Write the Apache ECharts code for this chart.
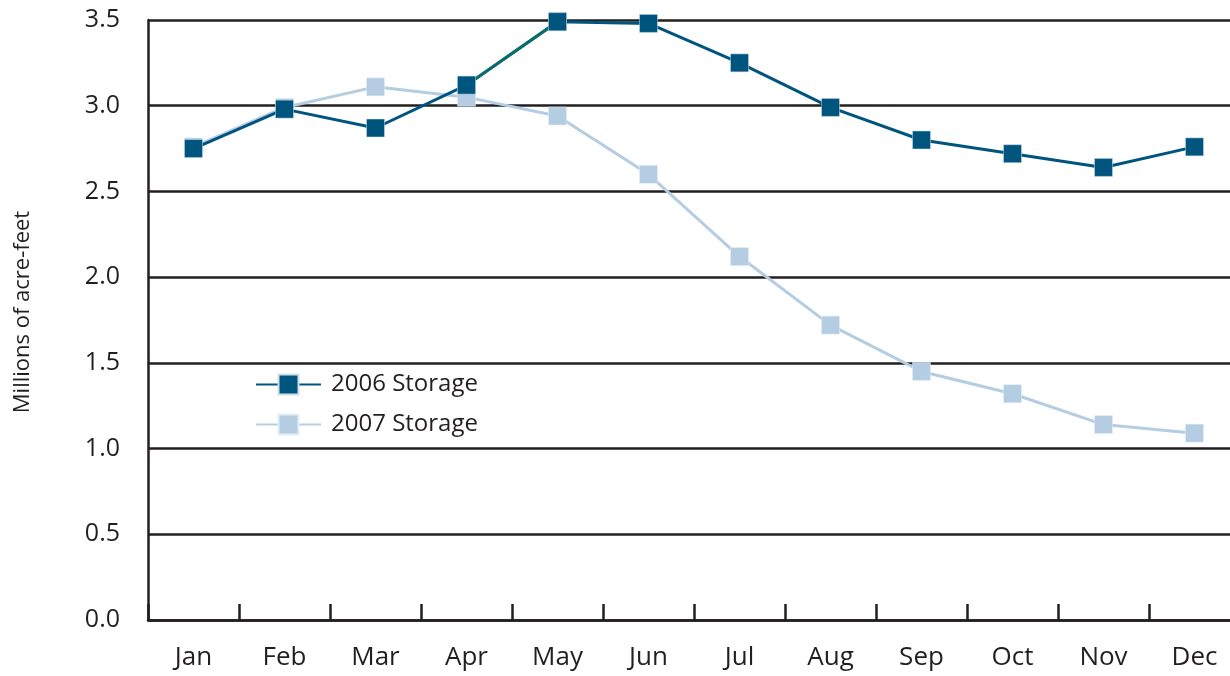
<!DOCTYPE html>
<html>
<head>
<meta charset="utf-8">
<script src="https://cdn.jsdelivr.net/npm/echarts@6/dist/echarts.min.js"></script>
<style>html,body{margin:0;padding:0;background:#fff;overflow:hidden;width:1230px;height:676px;}#c{width:1245px;height:676px;}</style>
</head>
<body>
<div id="c"></div>
<script>
const months = ['Jan','Feb','Mar','Apr','May','Jun','Jul','Aug','Sep','Oct','Nov','Dec'];
const storage2006 = [2.75, 2.98, 2.87, 3.12, 3.49, 3.48, 3.25, 2.99, 2.80, 2.72, 2.64, 2.76];
const storage2007 = [2.76, 2.99, 3.11, 3.05, 2.94, 2.60, 2.12, 1.72, 1.45, 1.32, 1.14, 1.09];
const yTicks = [0, 0.5, 1.0, 1.5, 2.0, 2.5, 3.0, 3.5];
const seriesNames = ['2006 Storage', '2007 Storage'];

// Apr–May segment of 2006 drawn in teal as in the original
const seg2006 = storage2006.map((v, i) => (i === 3 || i === 4) ? v : null);

const dark = '#00557f';
const light = '#b5cde2';
const ink = '#231f20';
const font = "'Open Sans', 'Noto Sans', sans-serif";

const chart = echarts.init(document.getElementById('c'), null, {renderer: 'canvas'});
chart.setOption({
  animation: false,
  backgroundColor: '#fff',
  textStyle: {fontFamily: font},
  grid: {left: 148, top: 20, width: 1092, height: 600, containLabel: false},
  legend: {
    data: seriesNames,
    orient: 'vertical',
    left: 250,
    top: 367,
    itemWidth: 65,
    itemHeight: 25,
    itemGap: 15,
    textStyle: {fontSize: 24, lineHeight: 25, color: ink, fontFamily: font, padding: [0,0,0,5]}
  },
  xAxis: {
    type: 'category',
    data: months,
    boundaryGap: true,
    axisLine: {lineStyle: {color: ink, width: 2.5}},
    axisTick: {show: true, interval: 0, inside: true, length: 16, lineStyle: {color: ink, width: 2.5}},
    axisLabel: {fontSize: 26, color: ink, margin: 25, fontFamily: font, interval: 0},
    splitLine: {show: false}
  },
  yAxis: {
    type: 'value',
    min: yTicks[0],
    max: yTicks[yTicks.length - 1],
    interval: 0.5,
    name: 'Millions of acre-feet',
    nameLocation: 'middle',
    nameGap: 114,
    nameRotate: 90,
    nameTextStyle: {fontSize: 22, color: ink, fontFamily: font, padding: [0, 0, 0, 16]},
    axisLine: {show: true, lineStyle: {color: ink, width: 2.5}},
    axisTick: {show: false},
    axisLabel: {fontSize: 25, color: ink, margin: 28, fontFamily: font,
      formatter: v => v.toFixed(1)},
    splitLine: {show: true, lineStyle: {color: ink, width: 2.5}}
  },
  series: [
    {
      name: seriesNames[1],
      type: 'line',
      data: storage2007,
      symbol: 'rect',
      symbolSize: 18,
      z: 2,
      lineStyle: {color: light, width: 3},
      itemStyle: {color: light, borderColor: '#e4eef6', borderWidth: 0.5}
    },
    {
      name: seriesNames[0],
      type: 'line',
      data: storage2006,
      symbol: 'rect',
      symbolSize: 18,
      z: 3,
      lineStyle: {color: dark, width: 3},
      itemStyle: {color: dark, borderColor: '#cfe0ec', borderWidth: 0.5}
    },
    {
      name: 'seg',
      type: 'line',
      data: seg2006,
      symbol: 'rect',
      symbolSize: 18,
      z: 4,
      connectNulls: false,
      legendHoverLink: false,
      lineStyle: {color: '#0b6d6b', width: 3},
      itemStyle: {color: dark, borderColor: '#cfe0ec', borderWidth: 0.5}
    }
  ]
});
</script>
</body>
</html>
